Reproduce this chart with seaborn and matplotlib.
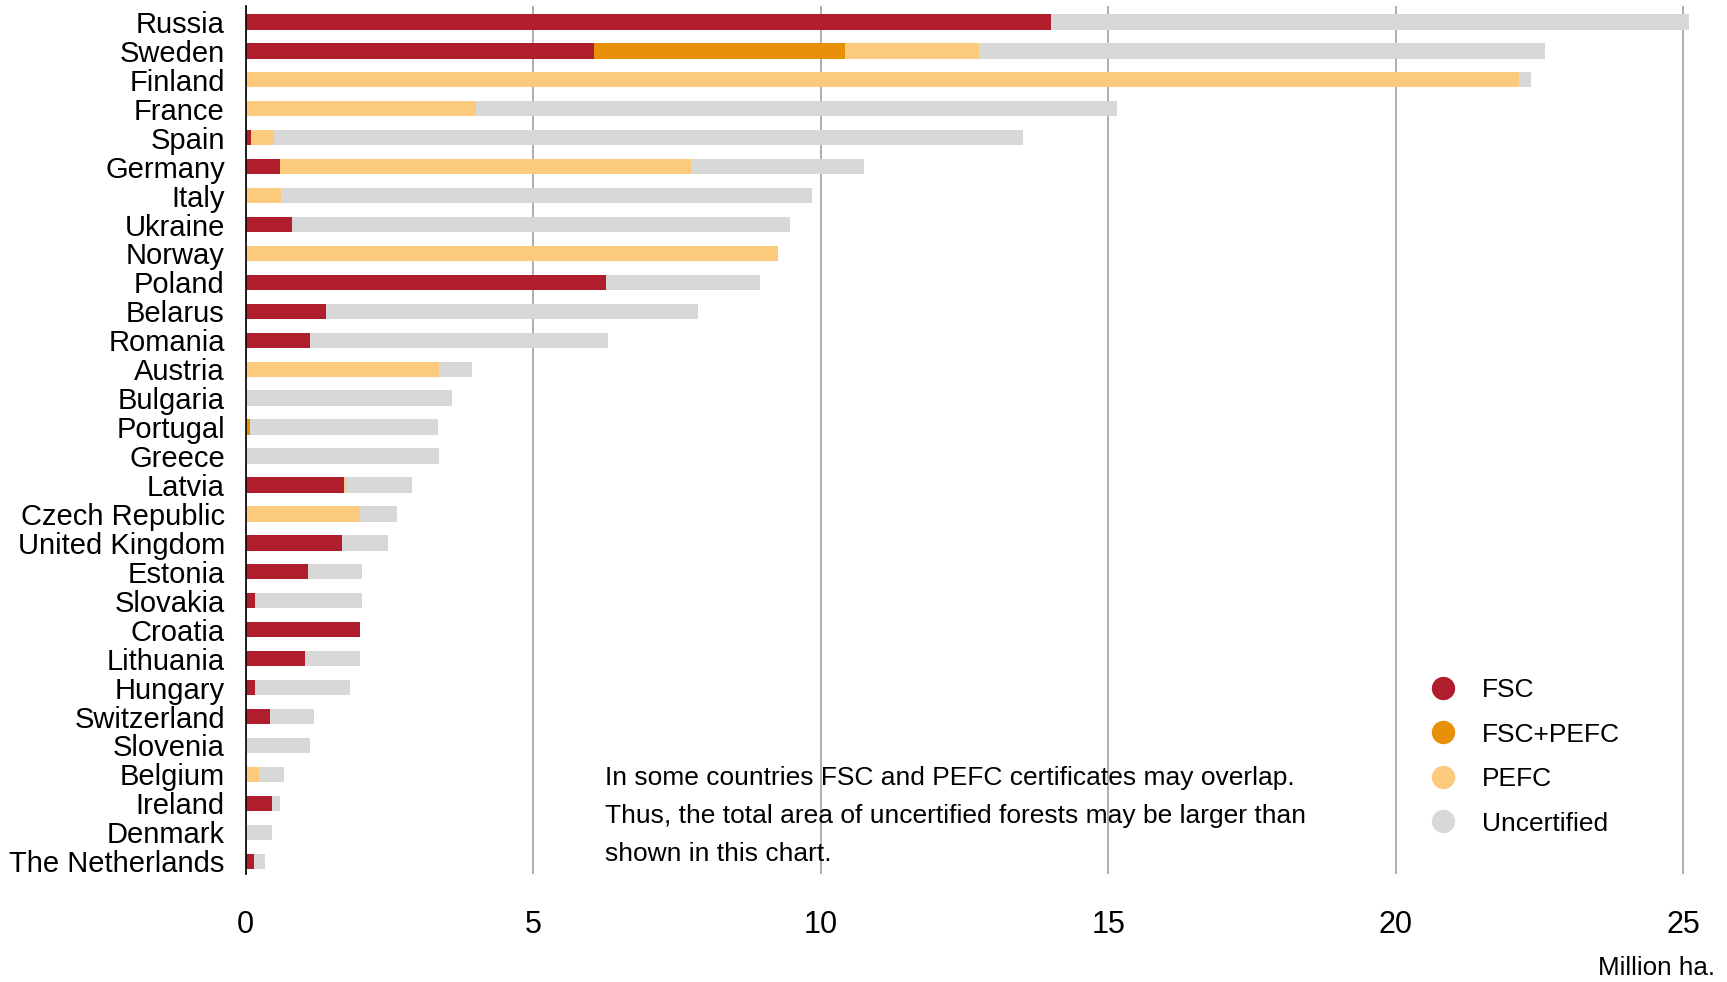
import numpy as np
import pandas as pd
import matplotlib
matplotlib.use("Agg")
import matplotlib.pyplot as plt
from matplotlib.lines import Line2D
import seaborn as sns

# forest area by certification, million ha
countries = ["Russia", "Sweden", "Finland", "France", "Spain", "Germany", "Italy",
             "Ukraine", "Norway", "Poland", "Belarus", "Romania", "Austria", "Bulgaria",
             "Portugal", "Greece", "Latvia", "Czech Republic", "United Kingdom", "Estonia",
             "Slovakia", "Croatia", "Lithuania", "Hungary", "Switzerland", "Slovenia",
             "Belgium", "Ireland", "Denmark", "The Netherlands"]
fsc = [14.0, 6.05, 0, 0, 0.1, 0.59, 0, 0.8, 0, 6.26, 1.39, 1.11, 0, 0,
       0, 0, 1.71, 0, 1.67, 1.08, 0.17, 1.98, 1.04, 0.17, 0.42, 0,
       0, 0.45, 0, 0.15]
fsc_pefc = [0, 4.38, 0, 0, 0, 0, 0, 0, 0, 0, 0, 0, 0, 0,
            0.07, 0, 0, 0, 0, 0, 0, 0, 0, 0, 0, 0,
            0, 0, 0, 0]
pefc = [0, 2.32, 22.15, 4.0, 0.39, 7.16, 0.62, 0, 9.26, 0, 0, 0, 3.37, 0,
        0, 0, 0.04, 1.98, 0, 0, 0, 0, 0, 0, 0, 0,
        0.24, 0, 0, 0]
uncertified = [11.1, 9.85, 0.2, 11.16, 13.03, 3.0, 9.23, 8.66, 0, 2.68, 6.47, 5.19, 0.56, 3.59,
               3.27, 3.37, 1.14, 0.66, 0.8, 0.94, 1.85, 0, 0.94, 1.64, 0.76, 1.11,
               0.42, 0.14, 0.46, 0.19]

labels = ["FSC", "FSC+PEFC", "PEFC", "Uncertified"]
colors = ["#B01E2E", "#E68F07", "#FCCA7C", "#D8D8D8"]

df = pd.DataFrame({"country": countries, "FSC": fsc, "FSC+PEFC": fsc_pefc,
                   "PEFC": pefc, "Uncertified": uncertified})
# cumulative sums, drawn largest first so they look stacked
cum = df[labels].cumsum(axis=1)

plt.rcParams["font.family"] = ["Liberation Sans", "DejaVu Sans"]

fig = plt.figure(figsize=(17.27, 9.82), dpi=100)
ax = fig.add_axes([0.14227, 0.1097, 0.8423, 0.8842])

for lab, col in zip(labels[::-1], colors[::-1]):
    sns.barplot(x=cum[lab], y=df["country"], orient="h", color=col,
                saturation=1, width=0.53, ax=ax, zorder=2)

ax.set_xlim(0, 25.3)
ax.set_ylim(29.45, -0.55)
ax.set_xticks([0, 5, 10, 15, 20, 25])
ax.xaxis.grid(True, color="#999999", linewidth=1.1)
ax.set_axisbelow(True)
for s in ["top", "right", "bottom"]:
    ax.spines[s].set_visible(False)
ax.spines["left"].set_color("black")
ax.spines["left"].set_linewidth(1.2)
ax.spines["left"].set_zorder(5)
ax.tick_params(axis="x", length=0, pad=26, labelsize=22)
ax.tick_params(axis="y", length=0, pad=15, labelsize=21)
ax.set_xlabel("")
ax.set_ylabel("")

fig.text(0.993, 0.0143, "Million ha.", ha="right", va="center", fontsize=18.7)

fig.text(0.3501, 0.169,
         "In some countries FSC and PEFC certificates may overlap.\n"
         "Thus, the total area of uncertified forests may be larger than\n"
         "shown in this chart.",
         ha="left", va="center", fontsize=19, linespacing=1.74)

handles = [Line2D([0], [0], marker="o", linestyle="none", markersize=15.8,
                  markerfacecolor=c, markeredgecolor=c) for c in colors]
fig.legend(handles, labels, loc="upper left", bbox_to_anchor=(0.8267, 0.3096),
           frameon=False, handlelength=1.16, handletextpad=0.9, labelspacing=0.78,
           borderpad=0, borderaxespad=0, prop={"size": 19})

fig.savefig("out.png", dpi=100)
